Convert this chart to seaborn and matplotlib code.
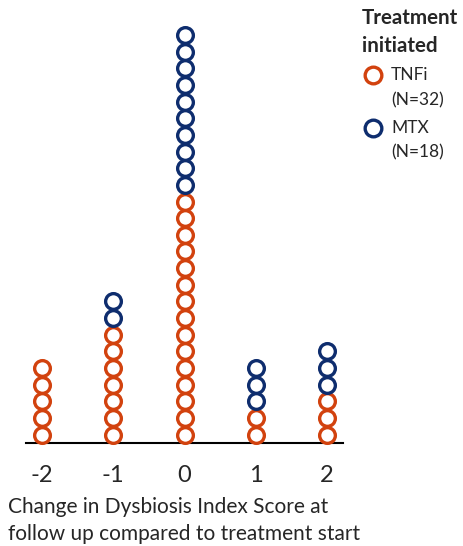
import pandas as pd
import seaborn as sns
import matplotlib.pyplot as plt
from matplotlib.lines import Line2D

# Counts per change in dysbiosis index score
scores = [-2, -1, 0, 1, 2]
score_labels = ["-2", "-1", "0", "1", "2"]
tnfi_counts = [5, 7, 15, 2, 3]
mtx_counts = [0, 2, 10, 3, 3]

groups = ["TNFi", "MTX"]
group_names = ["TNFi", "MTX"]
group_n = ["(N=32)", "(N=18)"]
colors = {"TNFi": "#D2420E", "MTX": "#0E2D6E"}

# Stack dots: TNFi at the bottom, MTX on top
rows = []
for s, n_t, n_m in zip(scores, tnfi_counts, mtx_counts):
    for i in range(n_t):
        rows.append({"score": s, "level": i + 0.5, "group": "TNFi"})
    for i in range(n_m):
        rows.append({"score": s, "level": n_t + i + 0.5, "group": "MTX"})
df = pd.DataFrame(rows)

sns.set_style("white")
plt.rcParams["font.family"] = ["Lato", "DejaVu Sans"]

W, H = 463, 546
fig = plt.figure(figsize=(W / 100, H / 100), dpi=100)
ax = fig.add_axes([26 / W, 103 / H, 317 / W, 423 / H])

for g in groups:
    sub = df[df["group"] == g]
    sns.scatterplot(data=sub, x="score", y="level", ax=ax, s=128,
                    facecolor="white", edgecolor=colors[g], linewidth=2.4,
                    legend=False, zorder=3, clip_on=False)

ax.set_xlim(-2.225, 2.225)
ax.set_ylim(0, 25.4)
ax.set_xticks(scores)
ax.set_xticklabels(score_labels, fontsize=17)
ax.tick_params(axis="x", length=0, pad=16)
ax.set_yticks([])
ax.set_xlabel("")
ax.set_ylabel("")
for side in ["top", "right", "left"]:
    ax.spines[side].set_visible(False)
ax.spines["bottom"].set_color("black")
ax.spines["bottom"].set_linewidth(1.5)

fig.text(8 / W, 1 - 513 / H, "Change in Dysbiosis Index Score at",
         fontsize=15, ha="left", va="baseline")
fig.text(8 / W, 1 - 540 / H, "follow up compared to treatment start",
         fontsize=15, ha="left", va="baseline")

# Legend, built by hand
fig.text(362 / W, 1 - 18 / H, "Treatment", fontsize=14.8, fontweight="bold",
         ha="left", va="center")
fig.text(362 / W, 1 - 46 / H, "initiated", fontsize=14.8, fontweight="bold",
         ha="left", va="center")
for k, g in enumerate(groups):
    y0 = 75 + 52.5 * k
    fig.add_artist(Line2D([373 / W], [1 - y0 / H], marker="o", linestyle="",
                          markersize=12, markerfacecolor="white",
                          markeredgecolor=colors[g], markeredgewidth=2.4,
                          transform=fig.transFigure))
    fig.text(391 / W, 1 - y0 / H, group_names[k], fontsize=12.5,
             ha="left", va="center")
    fig.text(391 / W, 1 - (y0 + 25) / H, group_n[k], fontsize=12.5,
             ha="left", va="center")

fig.savefig("out.png", dpi=100)
